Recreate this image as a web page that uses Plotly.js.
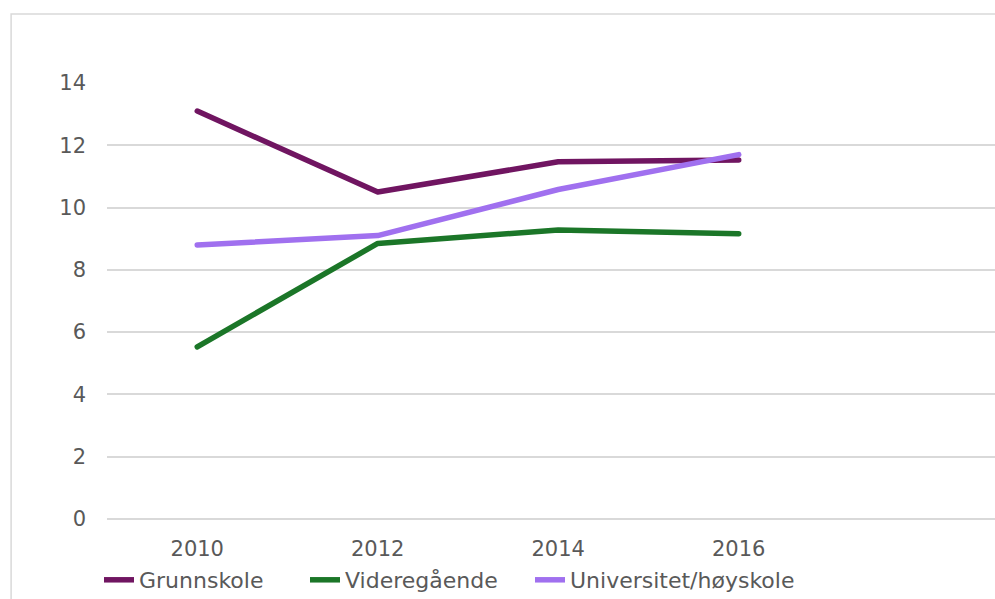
<!DOCTYPE html>
<html><head><meta charset="utf-8">
<script src="https://cdn.plot.ly/plotly-3.0.1.min.js"></script>
<style>html,body{margin:0;padding:0;background:#fff;}#chart{width:995px;height:599px;}
#chart .scatterlayer path.js-line{stroke-linecap:round;stroke-linejoin:round;}</style>
</head><body><div id="chart"></div>
<script>
const years = ['2010', '2012', '2014', '2016'];
const grunnskole = [13.1, 10.5, 11.47, 11.53];
const videregaende = [5.53, 8.85, 9.28, 9.16];
const universitet = [8.8, 9.1, 10.58, 11.7];
const seriesNames = ['Grunnskole', 'Videregående', 'Universitet/høyskole'];
const yTicks = [0, 2, 4, 6, 8, 10, 12, 14];

const font = 'DejaVu Sans, sans-serif';
const legendIds = ['legend', 'legend2', 'legend3'];
const mk = (y, i, color) => ({x: years, y: y, name: seriesNames[i], type: 'scatter', mode: 'lines',
  legend: legendIds[i], line: {color: color, width: 5.5, shape: 'linear'}, hoverinfo: 'skip'});
const data = [
  mk(grunnskole, 0, '#701561'),
  mk(videregaende, 1, '#1B7628'),
  mk(universitet, 2, '#A070EF')
];
const legendX = [99, 305, 530];
const legendBase = (px) => ({orientation: 'h', xref: 'container', yref: 'container',
  x: px / 995, xanchor: 'left', y: (599 - 580) / 599, yanchor: 'middle',
  font: {family: font, size: 22, color: '#595959'}, bgcolor: 'rgba(0,0,0,0)'});
const layout = {
  width: 995, height: 599,
  margin: {l: 107, r: 0, t: 83, b: 80},
  paper_bgcolor: '#fff', plot_bgcolor: '#fff',
  font: {family: font, size: 21, color: '#595959'},
  xaxis: {type: 'category', range: [-0.5, 4.42], showgrid: false, zeroline: false,
    showline: false, ticks: '', ticklabelstandoff: 15, tickfont: {size: 21, color: '#595959'}},
  yaxis: {range: [0, 14], tickvals: yTicks, showgrid: true, gridcolor: '#D9D9D9', gridwidth: 2,
    zeroline: true, zerolinecolor: '#D9D9D9', zerolinewidth: 2, showline: false, ticks: '',
    ticklabelstandoff: 20, tickfont: {size: 21, color: '#595959'}},
  showlegend: true,
  legend: legendBase(legendX[0]),
  legend2: legendBase(legendX[1]),
  legend3: legendBase(legendX[2]),
  shapes: [{type: 'rect', xref: 'paper', yref: 'paper', x0: -0.108, x1: 1.2, y0: -0.5, y1: 1.158,
    line: {color: '#D9D9D9', width: 1.5}, fillcolor: 'rgba(0,0,0,0)', layer: 'below'}]
};
Plotly.newPlot('chart', data, layout, {displayModeBar: false, staticPlot: true});
</script></body></html>
